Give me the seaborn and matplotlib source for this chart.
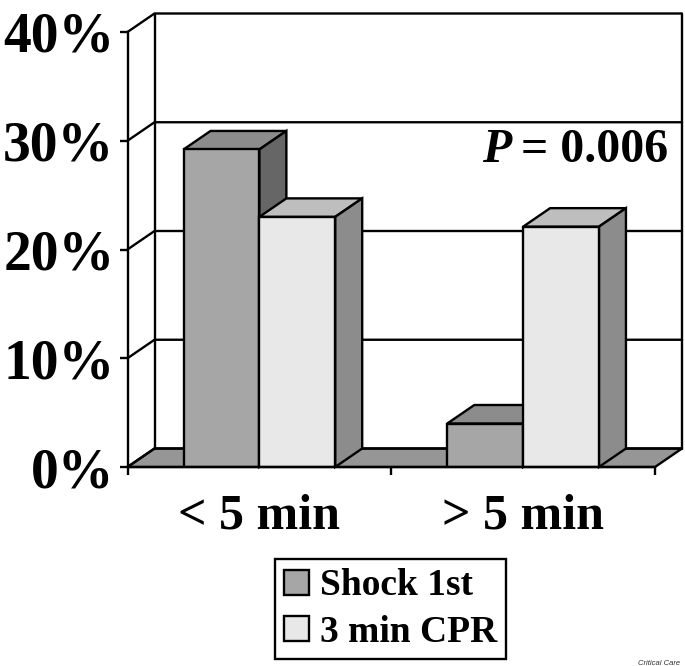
import pandas as pd
import seaborn as sns
import matplotlib.pyplot as plt
from matplotlib.patches import Polygon

groups = ["< 5 min", "> 5 min"]
shock_first = [29.2, 4.0]
cpr_first = [23.0, 22.1]
series_names = ["Shock 1st", "3 min CPR"]
y_ticks = [0, 10, 20, 30, 40]

front_colors = ["#a6a6a6", "#e8e8e8"]
top_colors = ["#8c8c8c", "#bebebe"]
side_colors = ["#666666", "#8c8c8c"]
floor_color = "#969696"

sns.set_theme(style="white")
plt.rcParams["font.family"] = ["Liberation Serif", "DejaVu Serif"]
plt.rcParams["font.weight"] = "bold"

df = pd.DataFrame({
    "group": groups * 2,
    "value": shock_first + cpr_first,
    "series": [series_names[0]] * 2 + [series_names[1]] * 2,
})

W, H = 685, 666
fig = plt.figure(figsize=(W / 100, H / 100), dpi=100)
ax = fig.add_axes([127.5 / W, (H - 467) / H, 527.5 / W, 435 / H])

sns.barplot(data=df, x="group", y="value", hue="series", order=groups,
            hue_order=series_names, palette=front_colors, saturation=1,
            width=0.575, gap=0, edgecolor="black", linewidth=1.7,
            errorbar=None, ax=ax)
ax.set_xlim(-0.5, 1.5)
ax.set_ylim(0, 40)

# depth of the fake 3d box, in data units
dx = 27 / 263.75
dy = 18.5 / 10.875
lw = 1.7

# floor and back wall
x0, x1 = ax.get_xlim()
ax.add_patch(Polygon([(x0, 0), (x1, 0), (x1 + dx, dy), (x0 + dx, dy)], closed=True,
                     fc=floor_color, ec="black", lw=lw, zorder=1, clip_on=False))
for t in y_ticks:
    ax.plot([x0, x0 + dx, x1 + dx], [t, t + dy, t + dy], color="black", lw=lw,
            zorder=1, clip_on=False)
ax.plot([x0 + dx, x0 + dx], [dy, 40 + dy], color="black", lw=lw, zorder=1, clip_on=False)
ax.plot([x1 + dx, x1 + dx], [dy, 40 + dy], color="black", lw=lw, zorder=1, clip_on=False)

# bar depth faces, drawn left to right so each front covers the previous side
bars = []
for s, cont in enumerate(ax.containers):
    for g, bar in enumerate(cont):
        bars.append((g, s, bar))
for g, s, bar in bars:
    left = bar.get_x()
    right = left + bar.get_width()
    top = bar.get_height()
    z = 2 + g * 4 + s * 2
    ax.add_patch(Polygon([(left, top), (right, top), (right + dx, top + dy), (left + dx, top + dy)],
                         closed=True, fc=top_colors[s], ec="black", lw=lw, zorder=z, clip_on=False))
    ax.add_patch(Polygon([(right, 0), (right + dx, dy), (right + dx, top + dy), (right, top)],
                         closed=True, fc=side_colors[s], ec="black", lw=lw, zorder=z, clip_on=False))
    bar.set_zorder(z + 1)

sns.despine(ax=ax)
for sp in ["left", "bottom"]:
    ax.spines[sp].set_color("black")
    ax.spines[sp].set_linewidth(lw)
    ax.spines[sp].set_zorder(20)

ax.set_xlabel("")
ax.set_ylabel("")
ax.set_yticks(y_ticks)
ax.set_yticklabels([f"{t}%" for t in y_ticks], fontsize=40, fontweight="bold", color="black")
ax.set_xticks([0, 1])
ax.set_xticklabels(groups, fontsize=36, fontweight="bold", color="black")
ax.set_xticks([-0.5, 0.5, 1.5], minor=True)
ax.tick_params(axis="y", left=True, length=5.5, width=lw, color="black", pad=4)
ax.tick_params(axis="x", which="major", bottom=False, pad=13)
ax.tick_params(axis="x", which="minor", bottom=True, length=5.5, width=lw, color="black")

fig.text(482 / W, (H - 162) / H, "P", fontsize=34.5, fontweight="bold", style="italic", color="black")
fig.text(668 / W, (H - 162) / H, "= 0.006", fontsize=34.5, fontweight="bold", color="black", ha="right")

leg = ax.legend(loc="center", bbox_to_anchor=(390.5 / W, (H - 609) / H),
                bbox_transform=fig.transFigure, fancybox=False, framealpha=1,
                edgecolor="black", fontsize=27, handlelength=0.66, handleheight=0.66,
                handletextpad=0.3, labelspacing=0.3, borderpad=0.24, borderaxespad=0)
leg.get_frame().set_linewidth(1.7)
for t in leg.get_texts():
    t.set_color("black")

fig.text(680 / W, (H - 665) / H, "Critical Care", fontsize=5.5, style="italic", ha="right",
         family="Liberation Sans", fontweight="normal", color="#333333")

fig.savefig("out.png", dpi=100)
